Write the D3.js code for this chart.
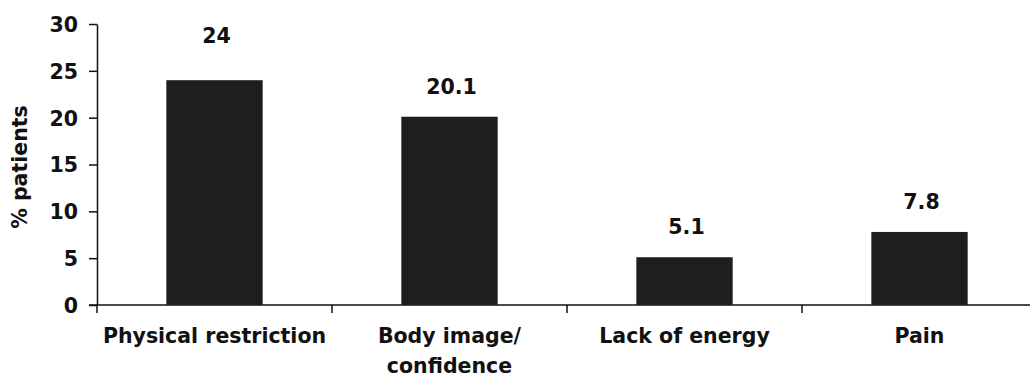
<!DOCTYPE html>
<html>
<head>
<meta charset="utf-8">
<script src="https://cdn.jsdelivr.net/npm/d3@7"></script>
<style>
  body { margin: 0; background: #fff; }
  text { font-family: "DejaVu Sans", sans-serif; font-weight: bold; fill: #111; }
</style>
</head>
<body>
<div id="app"></div>
<script>
const categories = [["Physical restriction"], ["Body image/", "confidence"], ["Lack of energy"], ["Pain"]];
const values = [24, 20.1, 5.1, 7.8];
const yTicks = [0, 5, 10, 15, 20, 25, 30];

const width = 1030, height = 381;
const margin = { left: 97, bottom: 305, top: 24 };
const fontSize = 20.5;

const svg = d3.select("#app").append("svg")
  .attr("width", width)
  .attr("height", height);

const x = d3.scaleBand()
  .domain(d3.range(categories.length))
  .range([margin.left, margin.left + 235 * categories.length])
  .paddingInner(0.59)
  .paddingOuter(0.295);

const y = d3.scaleLinear().domain([0, 30]).range([margin.bottom, margin.top]);

// y axis
const yAxis = svg.append("g")
  .attr("transform", `translate(${margin.left},0)`)
  .call(d3.axisLeft(y).tickValues(yTicks).tickSize(8).tickPadding(11).tickSizeOuter(0));
yAxis.select(".domain").attr("stroke", "#111").attr("stroke-width", 1.5);
yAxis.selectAll(".tick line").attr("stroke", "#111").attr("stroke-width", 1.5);
yAxis.selectAll(".tick text").attr("font-size", fontSize).attr("dy", "0.36em");

// x axis: line + ticks between categories
svg.append("line")
  .attr("x1", margin.left - 8).attr("x2", width)
  .attr("y1", margin.bottom).attr("y2", margin.bottom)
  .attr("stroke", "#111").attr("stroke-width", 1.5);

const step = x.step();
svg.selectAll(".xtick")
  .data(d3.range(categories.length + 1))
  .enter().append("line")
  .attr("x1", i => margin.left + i * step)
  .attr("x2", i => margin.left + i * step)
  .attr("y1", margin.bottom).attr("y2", margin.bottom + 8)
  .attr("stroke", "#111").attr("stroke-width", 1.5);

// bars
svg.selectAll(".bar")
  .data(values)
  .enter().append("rect")
  .attr("x", (d, i) => x(i))
  .attr("y", d => y(d))
  .attr("width", x.bandwidth())
  .attr("height", d => margin.bottom - y(d))
  .attr("fill", "#1e1e1e");

// value labels (the first one sits a bit higher in the original)
const labelLift = [37, 23, 23, 23];
svg.selectAll(".val")
  .data(values)
  .enter().append("text")
  .attr("x", (d, i) => x(i) + x.bandwidth() / 2 + 2)
  .attr("y", (d, i) => y(d) - labelLift[i])
  .attr("text-anchor", "middle")
  .attr("font-size", fontSize)
  .text(d => d);

// category labels
svg.selectAll(".cat")
  .data(categories)
  .enter().append("text")
  .attr("x", (d, i) => x(i) + x.bandwidth() / 2)
  .attr("y", 343)
  .attr("text-anchor", "middle")
  .attr("font-size", fontSize)
  .each(function(lines) {
    const t = d3.select(this);
    lines.forEach((line, j) => {
      t.append("tspan")
        .attr("x", t.attr("x"))
        .attr("dy", j === 0 ? 0 : 30)
        .text(line);
    });
  });

// y axis title
svg.append("text")
  .attr("transform", `translate(27,167) rotate(-90)`)
  .attr("text-anchor", "middle")
  .attr("font-size", fontSize)
  .text("% patients");
</script>
</body>
</html>
